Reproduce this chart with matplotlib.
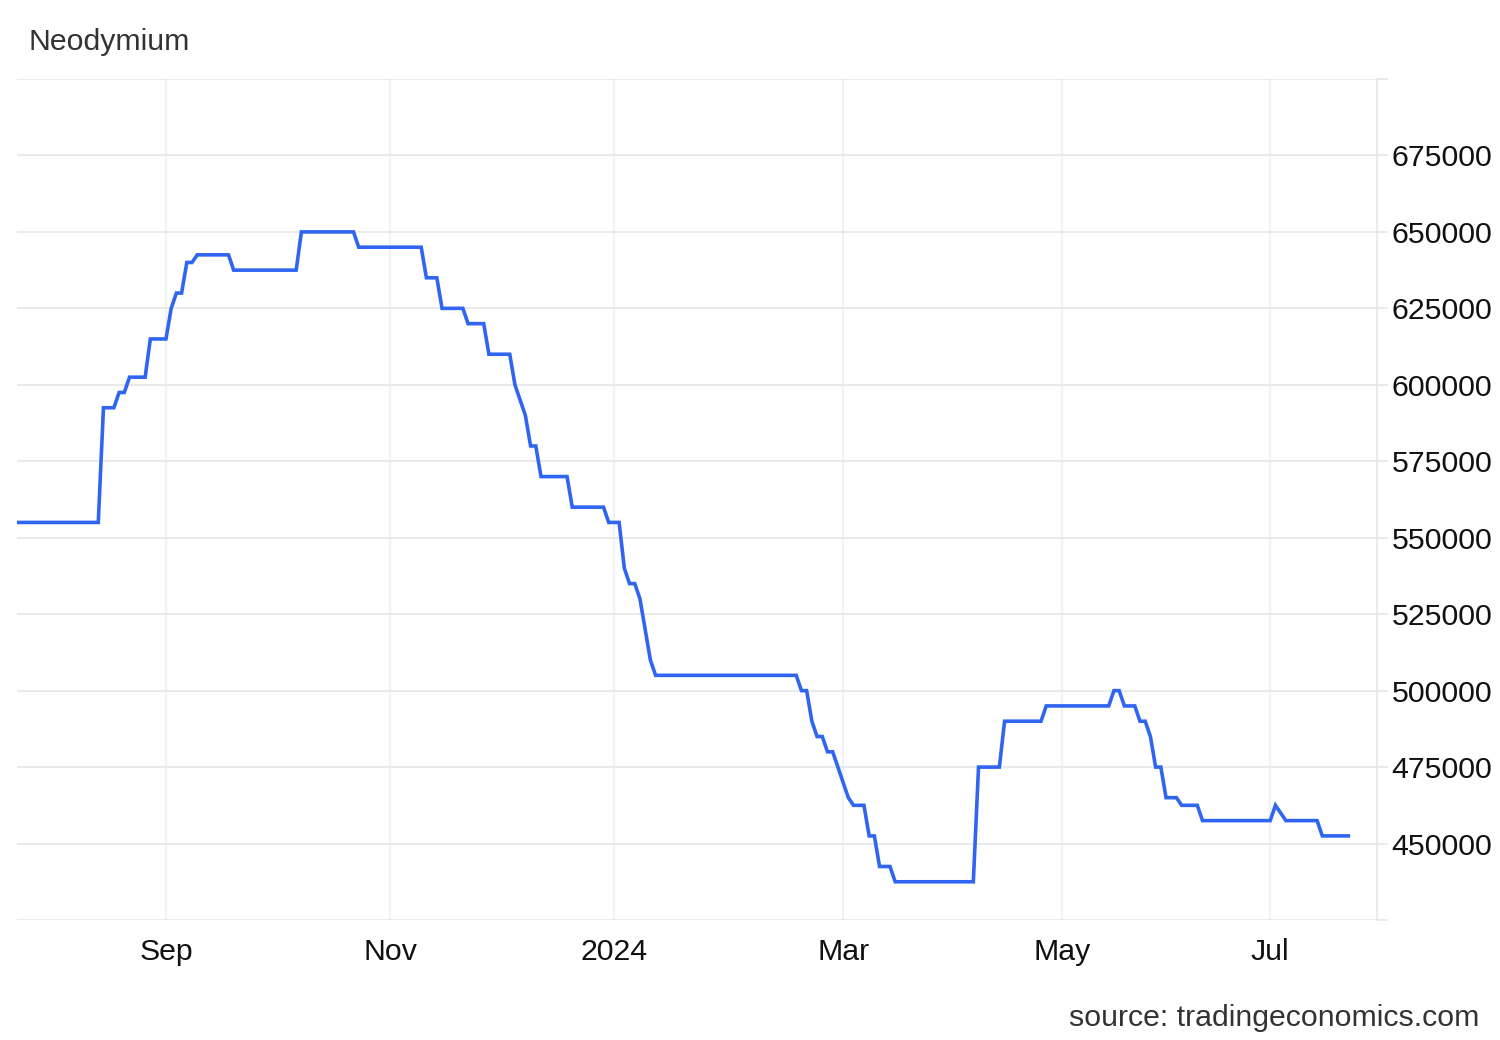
import matplotlib
matplotlib.use("Agg")
import matplotlib.pyplot as plt

plt.rcParams['font.family'] = ['Liberation Sans', 'DejaVu Sans']

# trading-day index of each vertex, and the price there (CNY/T)
day = [-1, 15, 16, 18, 19, 20, 21, 24, 25, 28, 29, 30, 31, 32, 33, 34, 40, 41,
       53, 54, 64, 65, 77, 78, 80, 81, 85, 86, 89, 90, 94, 95, 97, 98, 99, 100,
       105, 106, 112, 113, 115, 116, 117, 118, 119, 121, 122, 149, 150, 151,
       152, 153, 154, 155, 156, 159, 160, 162, 163, 164, 165, 167, 168, 183,
       184, 188, 189, 196, 197, 209, 210, 211, 212, 214, 215, 216, 217, 218,
       219, 220, 222, 223, 226, 227, 240, 241, 243, 249, 250, 255]
price = [555000, 555000, 592500, 592500, 597500, 597500, 602500, 602500,
         615000, 615000, 625000, 630000, 630000, 640000, 640000, 642500,
         642500, 637500, 637500, 650000, 650000, 645000, 645000, 635000,
         635000, 625000, 625000, 620000, 620000, 610000, 610000, 600000,
         590000, 580000, 580000, 570000, 570000, 560000, 560000, 555000,
         555000, 540000, 535000, 535000, 530000, 510000, 505000, 505000,
         500000, 500000, 490000, 485000, 485000, 480000, 480000, 465000,
         462500, 462500, 452500, 452500, 442500, 442500, 437500, 437500,
         475000, 475000, 490000, 490000, 495000, 495000, 500000, 500000,
         495000, 495000, 490000, 490000, 485000, 475000, 475000, 465000,
         465000, 462500, 462500, 457500, 457500, 462500, 457500, 457500,
         452500, 452500]

month_pos = [28, 71, 114, 158, 200, 240]
month_lbl = ['Sep', 'Nov', '2024', 'Mar', 'May', 'Jul']
y_ticks = list(range(425000, 700001, 25000))

fig = plt.figure(figsize=(15, 10.4), dpi=100)
ax = fig.add_axes([17 / 1500, 1 - 920 / 1040, 1360 / 1500, 841 / 1040])

ax.plot(day, price, color='#2f65f0', lw=2.6, solid_joinstyle='miter', zorder=3)

ax.set_xlim(-0.6, 260.5)
ax.set_ylim(425000, 700000)

ax.set_yticks(y_ticks)
ax.set_yticklabels(['' if v in (425000, 700000) else str(v) for v in y_ticks])
ax.yaxis.tick_right()
ax.tick_params(axis='y', length=8, width=1.2, color='#e6e6e6', pad=2.5,
               labelsize=21.8, labelcolor='#111111')
ax.grid(axis='y', color='#e6e6e6', lw=1.2)

ax.set_xticks(month_pos)
ax.set_xticklabels(month_lbl)
ax.tick_params(axis='x', length=0, pad=13, labelsize=21.8, labelcolor='#111111')
ax.grid(axis='x', color='#eef0f3', lw=1.2)

for s in ['top', 'bottom', 'left']:
    ax.spines[s].set_visible(False)
ax.spines['right'].set_color('#e6e6e6')
ax.spines['right'].set_linewidth(1.2)

fig.text(28 / 1500, 1 - 42 / 1040, 'Neodymium', fontsize=21.8, color='#333333',
         ha='left', va='center')
fig.text(1479 / 1500, 1 - 1018 / 1040, 'source: tradingeconomics.com',
         fontsize=21.8, color='#333333', ha='right', va='center')

fig.savefig('out.png', dpi=100, facecolor='white')
